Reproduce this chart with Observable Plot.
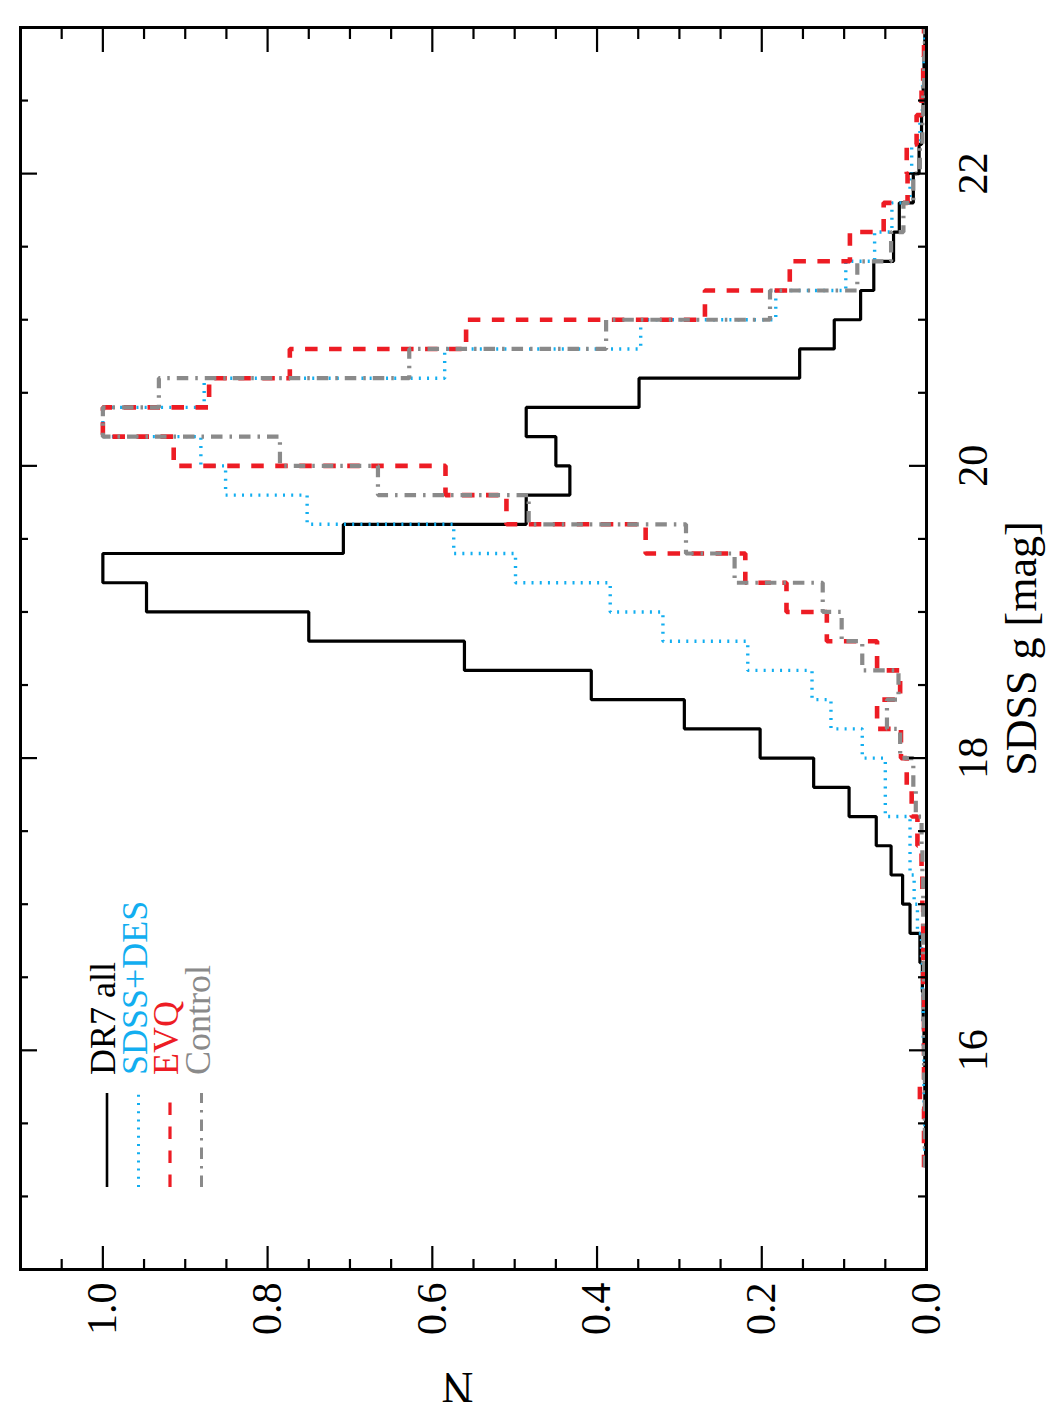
<!DOCTYPE html>
<html>
<head>
<meta charset="utf-8">
<script src="https://cdn.jsdelivr.net/npm/d3@7"></script>
<script src="https://cdn.jsdelivr.net/npm/@observablehq/plot@0.6"></script>
<style>
  html, body { margin: 0; padding: 0; background: #fff; overflow: hidden; }
  #page { position: relative; width: 1050px; height: 1425px; overflow: hidden; background: #fff; }
  /* the figure is laid out landscape and turned a quarter turn counter-clockwise */
  #chart { position: absolute; left: 0; top: 0; width: 1425px; height: 1050px;
           transform-origin: 0 0; transform: translate(0, 1425px) rotate(-90deg); }
  #chart svg { display: block; }
</style>
</head>
<body>
<div id="page"><div id="chart"></div></div>
<script>
// Bin edges of the g-band magnitude histograms (0.2 mag bins)
const binEdges = [15.2, 15.4, 15.6, 15.8, 16.0, 16.2, 16.4, 16.6, 16.8, 17.0,
                  17.2, 17.4, 17.6, 17.8, 18.0, 18.2, 18.4, 18.6, 18.8, 19.0,
                  19.2, 19.4, 19.6, 19.8, 20.0, 20.2, 20.4, 20.6, 20.8, 21.0,
                  21.2, 21.4, 21.6, 21.8, 22.0, 22.2, 22.4, 22.6, 22.8, 23.0];

// Normalised counts per bin (peak = 1)
const dr7All  = [0.001, 0.001, 0.002, 0.002, 0.003, 0.004, 0.005, 0.008, 0.020, 0.029,
                 0.043, 0.061, 0.094, 0.137, 0.202, 0.294, 0.407, 0.561, 0.750, 0.947,
                 1.000, 0.708, 0.486, 0.433, 0.450, 0.486, 0.349, 0.154, 0.112, 0.080,
                 0.064, 0.040, 0.033, 0.016, 0.009, 0.006, 0.004, 0.003, 0.002];
const sdssDes = [0.002, 0.002, 0.003, 0.003, 0.004, 0.004, 0.005, 0.006, 0.011, 0.015,
                 0.020, 0.020, 0.050, 0.050, 0.078, 0.116, 0.139, 0.217, 0.320, 0.384,
                 0.499, 0.574, 0.752, 0.851, 0.881, 1.000, 0.877, 0.585, 0.347, 0.183,
                 0.098, 0.063, 0.042, 0.020, 0.018, 0.008, 0.005, 0.003, 0.002];
const evq     = [0.003, 0.003, 0.008, 0.003, 0.003, 0.003, 0.004, 0.004, 0.004, 0.005,
                 0.006, 0.011, 0.018, 0.024, 0.031, 0.060, 0.032, 0.060, 0.121, 0.170,
                 0.220, 0.341, 0.510, 0.584, 0.914, 1.000, 0.871, 0.773, 0.559, 0.269,
                 0.166, 0.093, 0.052, 0.023, 0.024, 0.012, 0.006, 0.004, 0.003];
const control = [0.002, 0.002, 0.002, 0.003, 0.003, 0.003, 0.003, 0.004, 0.004, 0.004,
                 0.005, 0.006, 0.013, 0.016, 0.032, 0.048, 0.034, 0.078, 0.103, 0.126,
                 0.233, 0.292, 0.483, 0.666, 0.785, 1.000, 0.932, 0.628, 0.389, 0.190,
                 0.084, 0.043, 0.028, 0.016, 0.008, 0.005, 0.004, 0.003, 0.002];

// Axis ticks
const gMajorTicks = [16, 18, 20, 22];
const gMinorTicks = [15, 15.5, 16.5, 17, 17.5, 18.5, 19, 19.5, 20.5, 21, 21.5, 22.5];
const nMajorTicks = [0, 0.2, 0.4, 0.6, 0.8, 1.0];
const nMinorTicks = [0.05, 0.1, 0.15, 0.25, 0.3, 0.35, 0.45, 0.5, 0.55,
                     0.65, 0.7, 0.75, 0.85, 0.9, 0.95, 1.05];

// Series names and styles
const seriesNames  = ["DR7 all", "SDSS+DES", "EVQ", "Control"];
const seriesValues = [dr7All, sdssDes, evq, control];
const seriesColors = ["#000000", "#12aef0", "#ed1c24", "#8a8a8a"];
const plotWidths   = [3.2, 3.4, 4.6, 4.2];
const legendWidths = [2.6, 3, 3.2, 3];
const seriesDash   = [null, "2,6.2", "12.5,11.5", "11.5,7,2.5,7"];

const serif = "'Liberation Serif', 'Times New Roman', Times, serif";

// Turn each histogram into a step outline
function steps(values) {
  return values.flatMap((v, i) => [
    {g: binEdges[i], n: v},
    {g: binEdges[i + 1], n: v}
  ]);
}

const W = 1425, H = 1050;
const mL = 155, mR = 28, mT = 20, mB = 124;
const frameW = W - mL - mR, frameH = H - mT - mB;

const histMarks = seriesValues.map((vals, i) =>
  Plot.line(steps(vals), {
    x: "g", y: "n",
    stroke: seriesColors[i],
    strokeWidth: plotWidths[i],
    strokeDasharray: seriesDash[i],
    strokeLinejoin: "miter",
    strokeLinecap: "butt",
    curve: "linear"
  })
);

const chart = Plot.plot({
  width: W,
  height: H,
  marginLeft: mL, marginRight: mR, marginTop: mT, marginBottom: mB,
  style: {fontFamily: serif, fontSize: "42px", color: "#000", background: "#fff"},
  x: {domain: [14.5, 23]},
  y: {domain: [0, 1.1]},
  marks: [
    ...histMarks,
    // inward ticks on all four sides
    Plot.tickX(gMajorTicks, {x: d => d, insetTop: frameH - 17, strokeWidth: 2.2}),
    Plot.tickX(gMajorTicks, {x: d => d, insetBottom: frameH - 17, strokeWidth: 2.2}),
    Plot.tickX(gMinorTicks, {x: d => d, insetTop: frameH - 8, strokeWidth: 2.2}),
    Plot.tickX(gMinorTicks, {x: d => d, insetBottom: frameH - 8, strokeWidth: 2.2}),
    Plot.tickY(nMajorTicks, {y: d => d, insetRight: frameW - 24, strokeWidth: 2.2}),
    Plot.tickY(nMajorTicks, {y: d => d, insetLeft: frameW - 24, strokeWidth: 2.2}),
    Plot.tickY(nMinorTicks, {y: d => d, insetRight: frameW - 11, strokeWidth: 2.2}),
    Plot.tickY(nMinorTicks, {y: d => d, insetLeft: frameW - 11, strokeWidth: 2.2}),
    Plot.axisX({anchor: "bottom", ticks: gMajorTicks, tickSize: 0, tickPadding: 31,
                label: null, fontSize: 42}),
    Plot.axisY({anchor: "left", ticks: nMajorTicks, tickSize: 0, tickPadding: 13,
                tickFormat: d3.format(".1f"), label: null, fontSize: 42}),
    Plot.text(["SDSS g [mag]"], {frameAnchor: "bottom", dy: 109, lineAnchor: "bottom",
                                 fontSize: 44}),
    Plot.text(["N"], {frameAnchor: "left", dx: -118, rotate: -90, lineAnchor: "middle",
                      fontSize: 44}),
    Plot.frame({stroke: "#000", strokeWidth: 3})
  ]
});

// Legend in the upper-left corner of the panel
const svg = d3.select(chart);
const legend = svg.append("g")
  .attr("font-family", serif)
  .attr("font-size", 36)
  .attr("text-anchor", "start");
seriesNames.forEach((name, i) => {
  const yy = mT + 87 + 31.5 * i;
  legend.append("line")
    .attr("x1", mL + 83).attr("x2", mL + 177)
    .attr("y1", yy).attr("y2", yy)
    .attr("stroke", seriesColors[i])
    .attr("stroke-width", legendWidths[i])
    .attr("stroke-dasharray", seriesDash[i])
    .attr("stroke-linecap", "butt");
  legend.append("text")
    .attr("x", mL + 195).attr("y", yy + 8)
    .attr("text-anchor", "start")
    .attr("fill", seriesColors[i])
    .text(name);
});

document.getElementById("chart").appendChild(chart);
</script>
</body>
</html>
